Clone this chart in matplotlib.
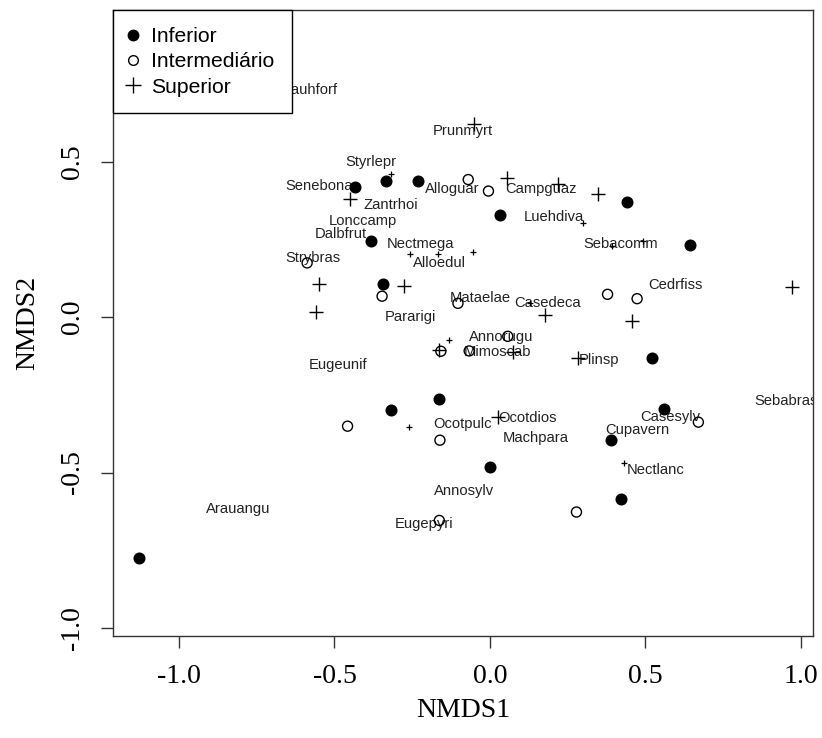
import matplotlib
matplotlib.use("Agg")
import matplotlib.pyplot as plt
from matplotlib.lines import Line2D

# site scores by group
inf_x = [-1.129, -0.435, -0.334, -0.232, -0.383, -0.345, 0.033, 0.441, 0.642,
         0.521, -0.164, 0.559, 0.389, -0.001, 0.420, -0.318]
inf_y = [-0.774, 0.418, 0.437, 0.436, 0.246, 0.105, 0.327, 0.370, 0.233,
         -0.131, -0.265, -0.295, -0.396, -0.482, -0.586, -0.298]

int_x = [-0.588, -0.347, -0.103, -0.070, -0.005, 0.378, 0.473, 0.057, -0.067,
         -0.158, 0.670, -0.161, -0.458, -0.163, 0.278]
int_y = [0.174, 0.067, 0.044, 0.442, 0.405, 0.073, 0.059, -0.062, -0.109,
         -0.110, -0.338, -0.396, -0.351, -0.654, -0.627]

sup_x = [-0.449, -0.549, -0.277, -0.559, -0.050, 0.054, 0.218, 0.348, 0.970,
         0.177, 0.456, 0.073, 0.284, 0.025, -0.163]
sup_y = [0.381, 0.105, 0.100, 0.015, 0.620, 0.448, 0.427, 0.397, 0.096,
         0.005, -0.013, -0.113, -0.131, -0.323, -0.107]

# species without room for a label (orditorp "+")
spp_x = [-0.318, -0.256, -0.168, 0.298, 0.392, 0.491, -0.054, 0.130, -0.131,
         -0.259, 0.430]
spp_y = [0.459, 0.202, 0.202, 0.302, 0.227, 0.243, 0.209, 0.045, -0.073,
         -0.354, -0.469]

# labelled species
lab_names = ["Bauhforf", "Styrlepr", "Senebona", "Zantrhoi", "Lonccamp", "Dalbfrut",
             "Nectmega", "Alloedul", "Strybras", "Prunmyrt", "Alloguar", "Campguaz",
             "Luehdiva", "Sebacomm", "Cedrfiss", "Mataelae", "Casedeca", "Pararigi",
             "Annorugu", "Mimoscab", "Plinsp", "Eugeunif", "Ocotdios", "Ocotpulc",
             "Machpara", "Casesylv", "Cupavern", "Nectlanc", "Annosylv", "Eugepyri",
             "Arauangu", "Sebabras"]
lab_x = [-0.579, -0.383, -0.550, -0.318, -0.409, -0.479, -0.222, -0.163, -0.570,
         -0.088, -0.122, 0.164, 0.207, 0.421, 0.596, -0.032, 0.186, -0.256,
         0.035, 0.025, 0.351, -0.490, 0.119, -0.089, 0.148, 0.580, 0.473, 0.534,
         -0.084, -0.211, -0.811, 0.952]
lab_y = [0.729, 0.498, 0.420, 0.359, 0.308, 0.266, 0.234, 0.174, 0.190, 0.598,
         0.413, 0.413, 0.322, 0.236, 0.102, 0.060, 0.045, 0.000, -0.064, -0.113,
         -0.137, -0.153, -0.325, -0.345, -0.388, -0.322, -0.362, -0.491, -0.559,
         -0.667, -0.616, -0.271]

groups = ["Inferior", "Intermediário", "Superior"]
xticks = [-1.0, -0.5, 0.0, 0.5, 1.0]
yticks = [-1.0, -0.5, 0.0, 0.5]

plt.rcParams["font.family"] = ["Liberation Sans", "DejaVu Sans"]

fig = plt.figure(figsize=(8.22, 7.38), dpi=100)
ax = fig.add_axes([113 / 822, 1 - 636 / 738, 700 / 822, 626 / 738])

ax.scatter(inf_x, inf_y, s=75, c="black", marker="o", linewidths=0, zorder=3)
ax.scatter(int_x, int_y, s=52, facecolors="none", edgecolors="black",
           marker="o", linewidths=1.0, zorder=3)
ax.scatter(sup_x, sup_y, s=110, c="black", marker="+", linewidths=1.0, zorder=3)
ax.scatter(spp_x, spp_y, s=22, c="black", marker="+", linewidths=0.9, zorder=3)

for name, x, y in zip(lab_names, lab_x, lab_y):
    ax.text(x, y, name, ha="center", va="center", fontsize=10.6, color="#222222",
            clip_on=True, zorder=2)

ax.set_xlim(-1.2122, 1.0386)
ax.set_ylim(-1.0256, 0.9872)

ax.set_xticks(xticks)
ax.set_xticklabels([f"{t:.1f}" for t in xticks], family="Liberation Serif", fontsize=20)
ax.set_yticks(yticks)
ax.set_yticklabels([f"{t:.1f}" for t in yticks], family="Liberation Serif", fontsize=20,
                   rotation=90, va="center")
ax.tick_params(axis="both", direction="out", length=8.5, width=1.0, color="#333333")
ax.tick_params(axis="x", pad=12)
ax.tick_params(axis="y", pad=12)
for sp in ax.spines.values():
    sp.set_linewidth(1.0)
    sp.set_color("#333333")

ax.set_xlabel("NMDS1", family="Liberation Serif", fontsize=20, labelpad=6)
ax.set_ylabel("NMDS2", family="Liberation Serif", fontsize=20, labelpad=14)

handles = [
    Line2D([], [], ls="none", marker="o", color="black", markersize=7.5),
    Line2D([], [], ls="none", marker="o", markerfacecolor="none",
           markeredgecolor="black", markersize=7, markeredgewidth=1.0),
    Line2D([], [], ls="none", marker="+", color="black", markersize=11,
           markeredgewidth=1.0),
]
leg = ax.legend(handles, groups, loc="upper left", borderaxespad=0, fancybox=False,
                edgecolor="black", framealpha=1, fontsize=15.2, handlelength=0.3,
                handletextpad=0.72, labelspacing=0.3, borderpad=0.8)
leg.get_frame().set_linewidth(1.0)
leg.set_zorder(5)

fig.savefig("out.png", dpi=100)
